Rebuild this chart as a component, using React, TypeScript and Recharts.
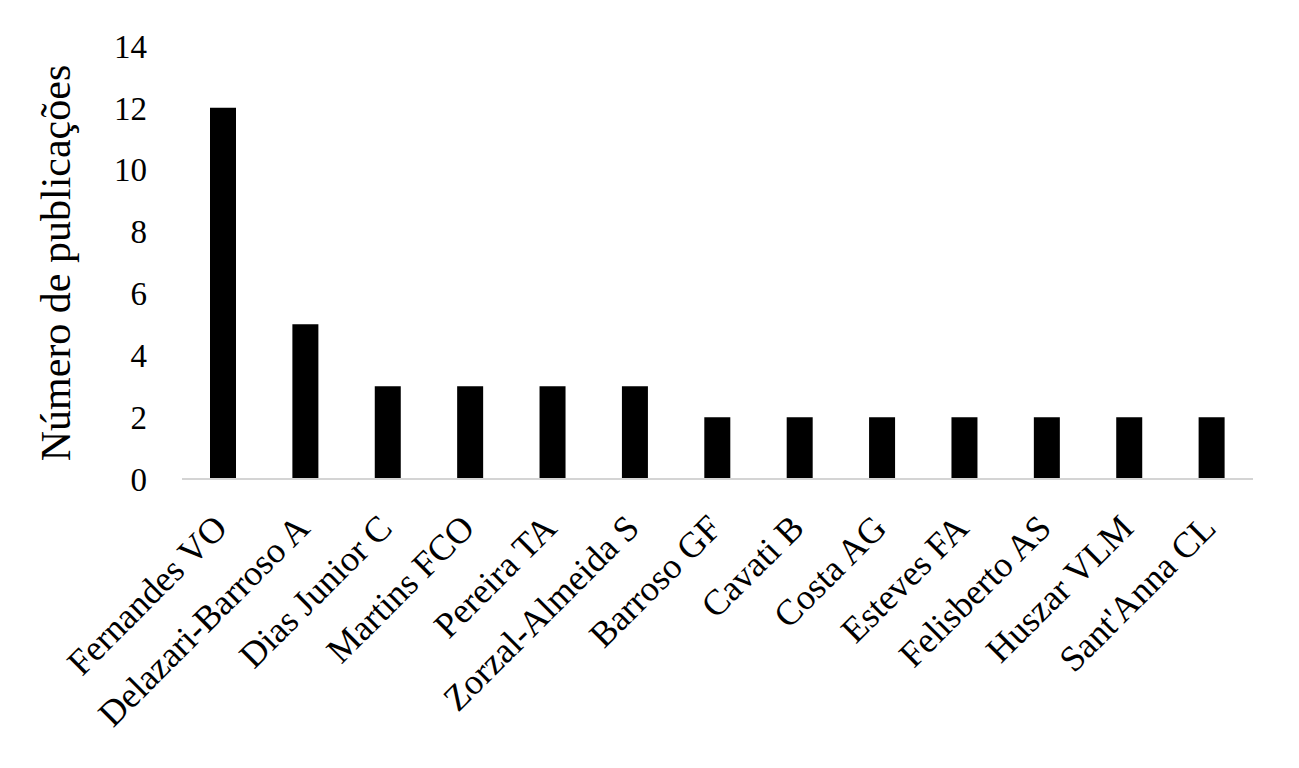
import { BarChart, Bar, XAxis, YAxis } from "recharts";

// ─── Data ──────────────────────────────────────────────────

const authors = [
  "Fernandes VO",
  "Delazari-Barroso A",
  "Dias Junior C",
  "Martins FCO",
  "Pereira TA",
  "Zorzal-Almeida S",
  "Barroso GF",
  "Cavati B",
  "Costa AG",
  "Esteves FA",
  "Felisberto AS",
  "Huszar VLM",
  "Sant'Anna CL",
];

const publications = [12, 5, 3, 3, 3, 3, 2, 2, 2, 2, 2, 2, 2];

const yTicks = [0, 2, 4, 6, 8, 10, 12, 14];

const data = authors.map((name, i) => ({ name, value: publications[i] }));

const FONT = '"Liberation Serif", "Times New Roman", serif';

// ─── Custom ticks / label ──────────────────────────────────

function AuthorTick({ x, y, payload }: { x?: number; y?: number; payload?: { value: string } }) {
  return (
    <g transform={`translate(${(x ?? 0) + 6},${(y ?? 0) + 51})`}>
      <text
        textAnchor="end"
        transform="rotate(-45)"
        fontFamily={FONT}
        fontSize={36}
        fill="#000"
      >
        {payload?.value}
      </text>
    </g>
  );
}

function YTitle() {
  return (
    <text
      x={62}
      y={255}
      transform="rotate(-90, 62, 255)"
      textAnchor="middle"
      fontFamily={FONT}
      fontSize={42}
      fill="#000"
    >
      Número de publicações
    </text>
  );
}

export default function App() {
  return (
    <div style={{ width: 1283, height: 760 }}>
      <BarChart
        width={1283}
        height={760}
        data={data}
        margin={{ top: 38, right: 38, left: 0, bottom: 0 }}
      >
        <XAxis
          dataKey="name"
          interval={0}
          height={289}
          tickLine={false}
          tickSize={0}
          tickMargin={0}
          axisLine={{ stroke: "#d4d4d4", strokeWidth: 2 }}
          tick={<AuthorTick />}
        />
        <YAxis
          width={174}
          domain={[0, 14]}
          ticks={yTicks}
          axisLine={false}
          tickLine={false}
          tickSize={0}
          tickMargin={35}
          tick={{ fontFamily: FONT, fontSize: 33, fill: "#000" }}
          label={() => <YTitle />}
        />
        <Bar dataKey="value" fill="#000" barSize={26} isAnimationActive={false} />
      </BarChart>
    </div>
  );
}
